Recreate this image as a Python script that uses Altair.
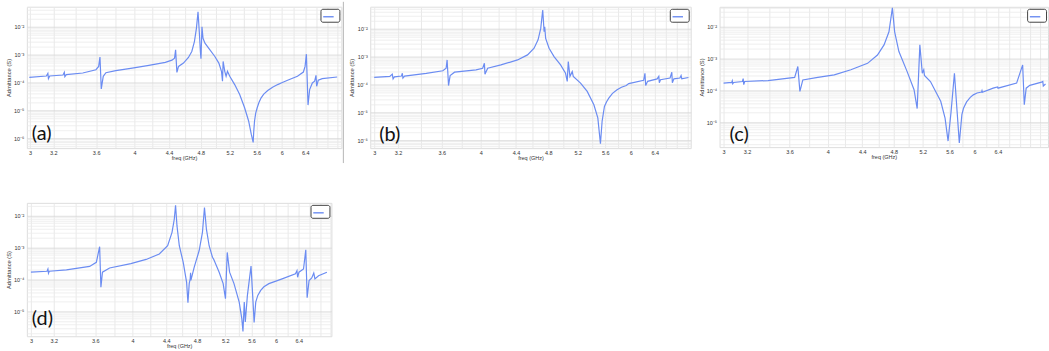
import altair as alt
import pandas as pd

# ---- admittance sweeps, frequency in GHz, admittance as log10(S) ----
freq_a = [2.995, 3.139, 3.152, 3.157, 3.168, 3.286, 3.298, 3.303, 3.316, 3.470, 3.598, 3.625,
          3.638, 3.651, 3.671, 3.698, 3.800, 3.976, 4.162, 4.355, 4.435, 4.467, 4.480, 4.496,
          4.516, 4.578, 4.641, 4.684, 4.718, 4.744, 4.765, 4.783, 4.796, 4.804, 4.817, 4.831,
          4.857, 4.924, 4.991, 5.046, 5.083, 5.097, 5.106, 5.129, 5.148, 5.167, 5.200, 5.271,
          5.344, 5.417, 5.477, 5.517, 5.546, 5.555, 5.567, 5.585, 5.608, 5.635, 5.669, 5.710,
          5.773, 5.850, 5.933, 6.000, 6.097, 6.265, 6.368, 6.398, 6.421, 6.450, 6.479, 6.527,
          6.568, 6.593, 6.605, 6.634, 6.707, 6.988]
log_adm_a = [-3.816, -3.769, -3.674, -3.864, -3.769, -3.733, -3.638, -3.792, -3.721, -3.662, -3.543, -3.424,
             -3.092, -4.231, -3.780, -3.650, -3.579, -3.484, -3.389, -3.282, -3.199, -3.128, -2.831, -3.638,
             -3.424, -3.306, -3.104, -2.890, -2.534, -2.059, -1.466, -2.237, -2.890, -3.151, -2.000, -2.415,
             -2.593, -2.831, -3.068, -3.306, -3.602, -3.958, -3.246, -3.602, -3.780, -3.602, -3.780, -4.077,
             -4.433, -4.908, -5.383, -5.858, -6.154, -5.750, -5.383, -5.100, -4.908, -4.720, -4.552, -4.420,
             -4.291, -4.170, -4.077, -4.010, -3.923, -3.780, -3.626, -3.424, -2.985, -4.813, -4.255, -4.018,
             -3.958, -3.745, -4.136, -3.923, -3.864, -3.804]

freq_b = [3.000, 3.129, 3.150, 3.157, 3.168, 3.229, 3.237, 3.242, 3.256, 3.453, 3.611, 3.643,
          3.653, 3.667, 3.683, 3.727, 3.950, 4.021, 4.040, 4.046, 4.076, 4.224, 4.418, 4.539,
          4.620, 4.670, 4.704, 4.729, 4.747, 4.755, 4.767, 4.811, 4.876, 4.963, 5.030, 5.053,
          5.067, 5.090, 5.122, 5.136, 5.238, 5.333, 5.430, 5.488, 5.527, 5.552, 5.587, 5.620,
          5.653, 5.710, 5.781, 5.850, 5.927, 5.966, 6.211, 6.233, 6.245, 6.278, 6.442, 6.471,
          6.480, 6.500, 6.671, 6.702, 6.712, 6.740, 6.850, 6.872, 6.885, 7.010]
log_adm_b = [-3.75, -3.71, -3.63, -3.80, -3.73, -3.70, -3.60, -3.77, -3.70, -3.60, -3.51, -3.42,
             -3.12, -4.04, -3.68, -3.56, -3.48, -3.42, -3.24, -3.63, -3.42, -3.30, -3.12, -2.94,
             -2.70, -2.40, -1.99, -1.33, -2.11, -1.93, -2.35, -2.70, -3.00, -3.30, -3.60, -3.89,
             -3.18, -3.71, -3.54, -3.71, -3.95, -4.25, -4.73, -5.20, -6.13, -5.32, -4.79, -4.62,
             -4.49, -4.32, -4.19, -4.10, -4.04, -3.97, -3.85, -3.60, -4.04, -3.89, -3.80, -3.71,
             -3.94, -3.83, -3.77, -3.56, -3.94, -3.80, -3.77, -3.68, -3.80, -3.75]

freq_c = [3.000, 3.068, 3.073, 3.077, 3.085, 3.160, 3.167, 3.172, 3.180, 3.392, 3.651, 3.683,
          3.704, 3.734, 3.892, 4.073, 4.264, 4.465, 4.589, 4.673, 4.737, 4.782, 4.812, 4.869,
          4.981, 5.077, 5.121, 5.159, 5.194, 5.215, 5.225, 5.312, 5.465, 5.531, 5.577, 5.624,
          5.676, 5.718, 5.753, 5.794, 5.820, 5.870, 5.930, 5.980, 6.042, 6.118, 6.125, 6.132,
          6.317, 6.395, 6.402, 6.740, 6.853, 6.884, 6.920, 6.990, 7.220, 7.245, 7.255, 7.300]
log_adm_c = [-3.77, -3.75, -3.70, -3.79, -3.75, -3.72, -3.63, -3.82, -3.72, -3.69, -3.59, -3.25,
             -4.03, -3.67, -3.59, -3.51, -3.35, -3.15, -2.89, -2.57, -2.16, -1.41, -2.16, -2.78,
             -3.41, -3.98, -4.57, -2.57, -3.46, -3.35, -3.53, -3.72, -4.34, -4.87, -5.59, -4.66,
             -3.46, -4.66, -5.65, -4.76, -4.56, -4.36, -4.22, -4.14, -4.08, -4.05, -4.01, -4.06,
             -3.93, -3.89, -3.93, -3.77, -3.20, -4.45, -3.93, -3.84, -3.74, -3.72, -3.86, -3.80]

freq_d = [3.000, 3.140, 3.148, 3.153, 3.160, 3.317, 3.542, 3.610, 3.644, 3.657, 3.673, 3.748,
          3.980, 4.156, 4.314, 4.417, 4.472, 4.501, 4.517, 4.535, 4.565, 4.616, 4.660, 4.678,
          4.695, 4.708, 4.713, 4.717, 4.762, 4.829, 4.874, 4.902, 4.929, 4.967, 5.014, 5.030,
          5.110, 5.168, 5.202, 5.228, 5.263, 5.329, 5.408, 5.448, 5.466, 5.486, 5.502, 5.535,
          5.592, 5.624, 5.641, 5.667, 5.700, 5.747, 5.800, 5.882, 6.000, 6.106, 6.341, 6.368,
          6.380, 6.404, 6.487, 6.529, 6.554, 6.590, 6.640, 6.678, 6.700, 6.769, 6.931]
log_adm_d = [-3.77, -3.74, -3.67, -3.80, -3.74, -3.70, -3.59, -3.46, -2.97, -4.24, -3.77, -3.64,
             -3.50, -3.37, -3.20, -2.94, -2.52, -2.10, -1.67, -2.31, -2.94, -3.46, -4.08, -4.73,
             -4.13, -3.98, -3.79, -4.03, -3.61, -3.09, -2.52, -1.74, -2.42, -2.94, -3.30, -3.36,
             -3.77, -4.13, -4.60, -3.15, -3.77, -4.13, -4.71, -5.23, -5.63, -4.71, -5.33, -4.50,
             -3.58, -4.71, -5.35, -4.71, -4.50, -4.34, -4.23, -4.13, -4.05, -3.98, -3.82, -3.72,
             -3.93, -3.77, -3.67, -3.07, -4.57, -4.03, -3.95, -3.80, -3.98, -3.88, -3.77]

# ---- axis ticks ----
x_grid = [3.0, 3.2, 3.4, 3.6, 3.8, 4.0, 4.2, 4.4, 4.6, 4.8, 5.0, 5.2, 5.4, 5.6, 5.8,
          6.0, 6.2, 6.4, 6.6, 6.8, 7.0, 7.2]
x_labeled = [3, 3.2, 3.6, 4, 4.4, 4.8, 5.2, 5.6, 6, 6.4]
y_decades = [-7, -6, -5, -4, -3, -2, -1]
y_grid = [m * 10.0 ** k for k in y_decades for m in range(1, 10)]
superscripts = ["⁰", "⁻¹", "⁻²", "⁻³", "⁻⁴", "⁻⁵", "⁻⁶", "⁻⁷"]

LINE_COLOR = "#6b8cf2"
FONT = "Liberation Sans"

x_label_expr = (
    "indexof([" + ",".join(str(v) for v in x_labeled) + "], round(datum.value*10)/10) >= 0"
    " ? format(datum.value, '~g') : ''"
)
decade_test = "abs(log(datum.value)/LN10 - round(log(datum.value)/LN10)) < 0.001"
y_label_expr = (
    decade_test + " ? '10' + [" + ",".join("'" + s + "'" for s in superscripts) +
    "][-round(log(datum.value)/LN10)] : ''"
)


def panel(tag, freq, log_adm, x_dom, log_y_dom, width, height, tag_x, tag_y, left_rule=False):
    df = pd.DataFrame({"freq": freq, "adm": [10.0 ** v for v in log_adm], "curve": "Y"})
    y_dom = [10.0 ** log_y_dom[0], 10.0 ** log_y_dom[1]]
    xt = [v for v in x_grid if x_dom[0] <= v <= x_dom[1]]
    yt = [v for v in y_grid if y_dom[0] <= v <= y_dom[1]]

    x = alt.X(
        "freq:Q",
        scale=alt.Scale(type="log", domain=list(x_dom), nice=False),
        axis=alt.Axis(
            values=xt, labelExpr=x_label_expr, title="freq (GHz)", grid=True,
            gridColor="#e3e3e3", gridWidth=0.8, ticks=False, domain=False,
            labelPadding=2, titlePadding=0, labelFontSize=5.5, titleFontSize=5.5,
            titleFontWeight="normal", labelFont=FONT, titleFont=FONT,
            labelColor="#333", titleColor="#333", labelOverlap=False, labelFlush=False,
        ),
    )
    y = alt.Y(
        "adm:Q",
        scale=alt.Scale(type="log", domain=y_dom, nice=False),
        axis=alt.Axis(
            values=yt, labelExpr=y_label_expr, title="Admittance (S)", grid=True,
            gridColor={"condition": {"test": decade_test, "value": "#d6d6d6"}, "value": "#ebebeb"},
            gridWidth=0.8, ticks=False, domain=False, labelPadding=3, titlePadding=2,
            labelFontSize=5.5, titleFontSize=5.8, titleFontWeight="normal",
            labelFont=FONT, titleFont=FONT, labelColor="#333", titleColor="#333",
            labelOverlap=False, labelFlush=False,
        ),
    )
    line = alt.Chart(df).mark_line(strokeWidth=1.2, clip=True).encode(
        x=x, y=y,
        color=alt.Color(
            "curve:N",
            scale=alt.Scale(range=[LINE_COLOR]),
            legend=alt.Legend(
                orient="top-right", title=None, labelExpr="''", symbolType="stroke",
                symbolSize=110, symbolStrokeWidth=1.4, strokeColor="#444",
                fillColor="white", cornerRadius=2, padding=2, offset=2,
                labelFontSize=1, labelOffset=0,
            ),
        ),
    )
    tag_df = pd.DataFrame({"tag": [tag]})
    label = alt.Chart(tag_df).mark_text(
        align="left", baseline="alphabetic", fontSize=20, font="Lato", color="#111"
    ).encode(text="tag:N", x=alt.value(tag_x), y=alt.value(tag_y))
    layers = [line, label]
    if left_rule:
        # thin border at the left edge of this figure panel
        edge = alt.Chart(tag_df).mark_rule(color="#b5b5b5", strokeWidth=1).encode(
            x=alt.value(-27), y=alt.value(-5), y2=alt.value(157)
        )
        layers.append(edge)
    return alt.layer(*layers).properties(width=width, height=height)


pa = panel("(a)", freq_a, log_adm_a, (2.975, 7.07), (-6.357, -1.286), 316, 142, 5, 134)
pb = panel("(b)", freq_b, log_adm_b, (2.968, 7.053), (-6.286, -1.214), 322, 142, 9, 135,
           left_rule=True)
pc = panel("(c)", freq_c, log_adm_c, (2.967, 7.35), (-5.781, -1.375), 330, 141, 10, 135)
pd_ = panel("(d)", freq_d, log_adm_d, (2.966, 7.02), (-5.781, -1.594), 306, 134, 5, 123)

chart = alt.concat(
    pa, pb, pc, pd_, columns=3, bounds="flush", spacing={"row": 55, "column": 29}
).resolve_scale(color="independent").resolve_legend(color="independent").properties(
    padding={"left": 5, "top": 0, "right": 0, "bottom": 0}
).configure_view(stroke="#9a9a9a", strokeWidth=1).configure(background="white")

chart.save("out.html", embed_options={"renderer": "svg", "actions": False})
